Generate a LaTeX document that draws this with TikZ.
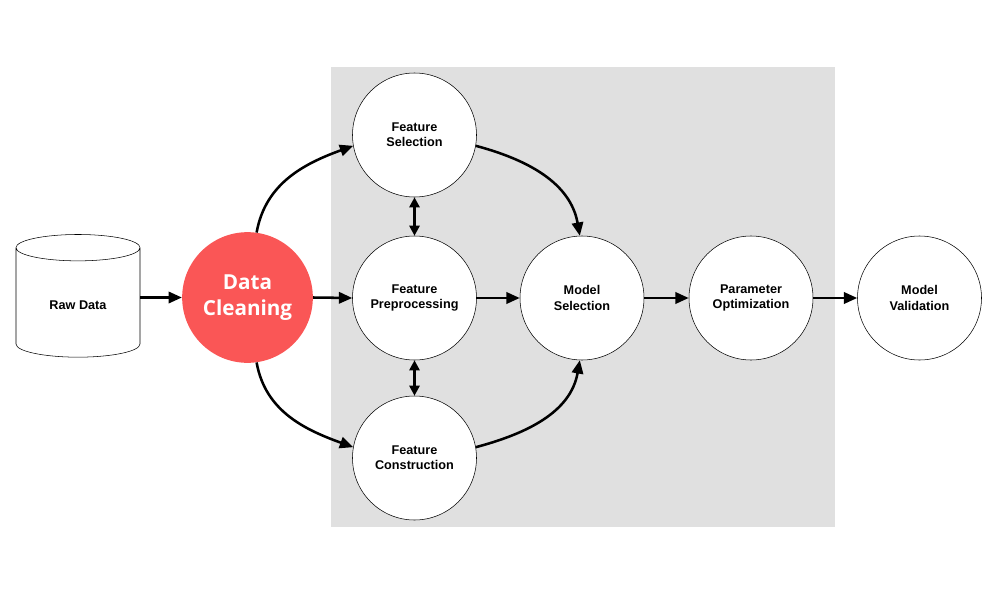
\documentclass[tikz,border=0pt]{standalone}
\usepackage{fontspec}
\setmainfont{Liberation Sans}
\newfontfamily\cleanfont{Open Sans}
\usetikzlibrary{shapes, arrows.meta, positioning}

\definecolor{panelgray}{RGB}{224,224,224}
\definecolor{cleanred}{RGB}{250,86,86}

\begin{document}
\begin{tikzpicture}[
    x=0.75pt, y=-0.75pt,
    stage/.style={circle, draw, fill=white, minimum size=93pt, inner sep=0pt, align=center, font=\fontsize{9.5}{11.5}\selectfont\bfseries},
    flow/.style={line width=1.9pt, -{Triangle[length=10pt, width=8.5pt]}},
    swap/.style={line width=1.9pt, {Triangle[length=7.5pt, width=7.5pt]}-{Triangle[length=7.5pt, width=7.5pt]}}
]
\useasboundingbox (0,0) rectangle (1000,600);
\fill[panelgray] (331,67) rectangle (835,527);

\node[cylinder, shape border rotate=90, aspect=0.4, draw, fill=white, minimum width=93pt, minimum height=92pt, font=\fontsize{9.5}{11.5}\selectfont\bfseries] (raw) at (78,305) {Raw Data};
\node[circle, fill=cleanred, minimum size=98pt, inner sep=0pt, align=center, text=white, font=\cleanfont\fontsize{15.5}{19.5}\selectfont\bfseries] (clean) at (247.5,297.5) {Data\\Cleaning};
\node[stage] (fsel) at (414.5,135) {Feature\\Selection};
\node[stage] (fpre) at (414.5,298) {Feature\\Preprocessing};
\node[stage] (fcon) at (414.5,458) {Feature\\Construction};
\node[stage] (msel) at (582,298) {Model\\Selection};
\node[stage] (popt) at (751,298) {Parameter\\Optimization};
\node[stage] (mval) at (919.5,298) {Model\\Validation};

\draw[flow] (raw.east |- clean.west) -- (clean.west);
\draw[flow] (clean.east) -- (fpre.west);
\draw[flow] (clean.82) to[out=80, in=200] (fsel.190);
\draw[flow] (clean.-82) to[out=-80, in=160] (fcon.170);
\draw[swap] (fsel.south) -- (fpre.north);
\draw[swap] (fpre.south) -- (fcon.north);
\draw[flow] (fsel.-10) to[out=-15, in=100] (msel.92);
\draw[flow] (fcon.10) to[out=15, in=-100] (msel.-92);
\draw[flow] (fpre.east) -- (msel.west);
\draw[flow] (msel.east) -- (popt.west);
\draw[flow] (popt.east) -- (mval.west);
\end{tikzpicture}
\end{document}
